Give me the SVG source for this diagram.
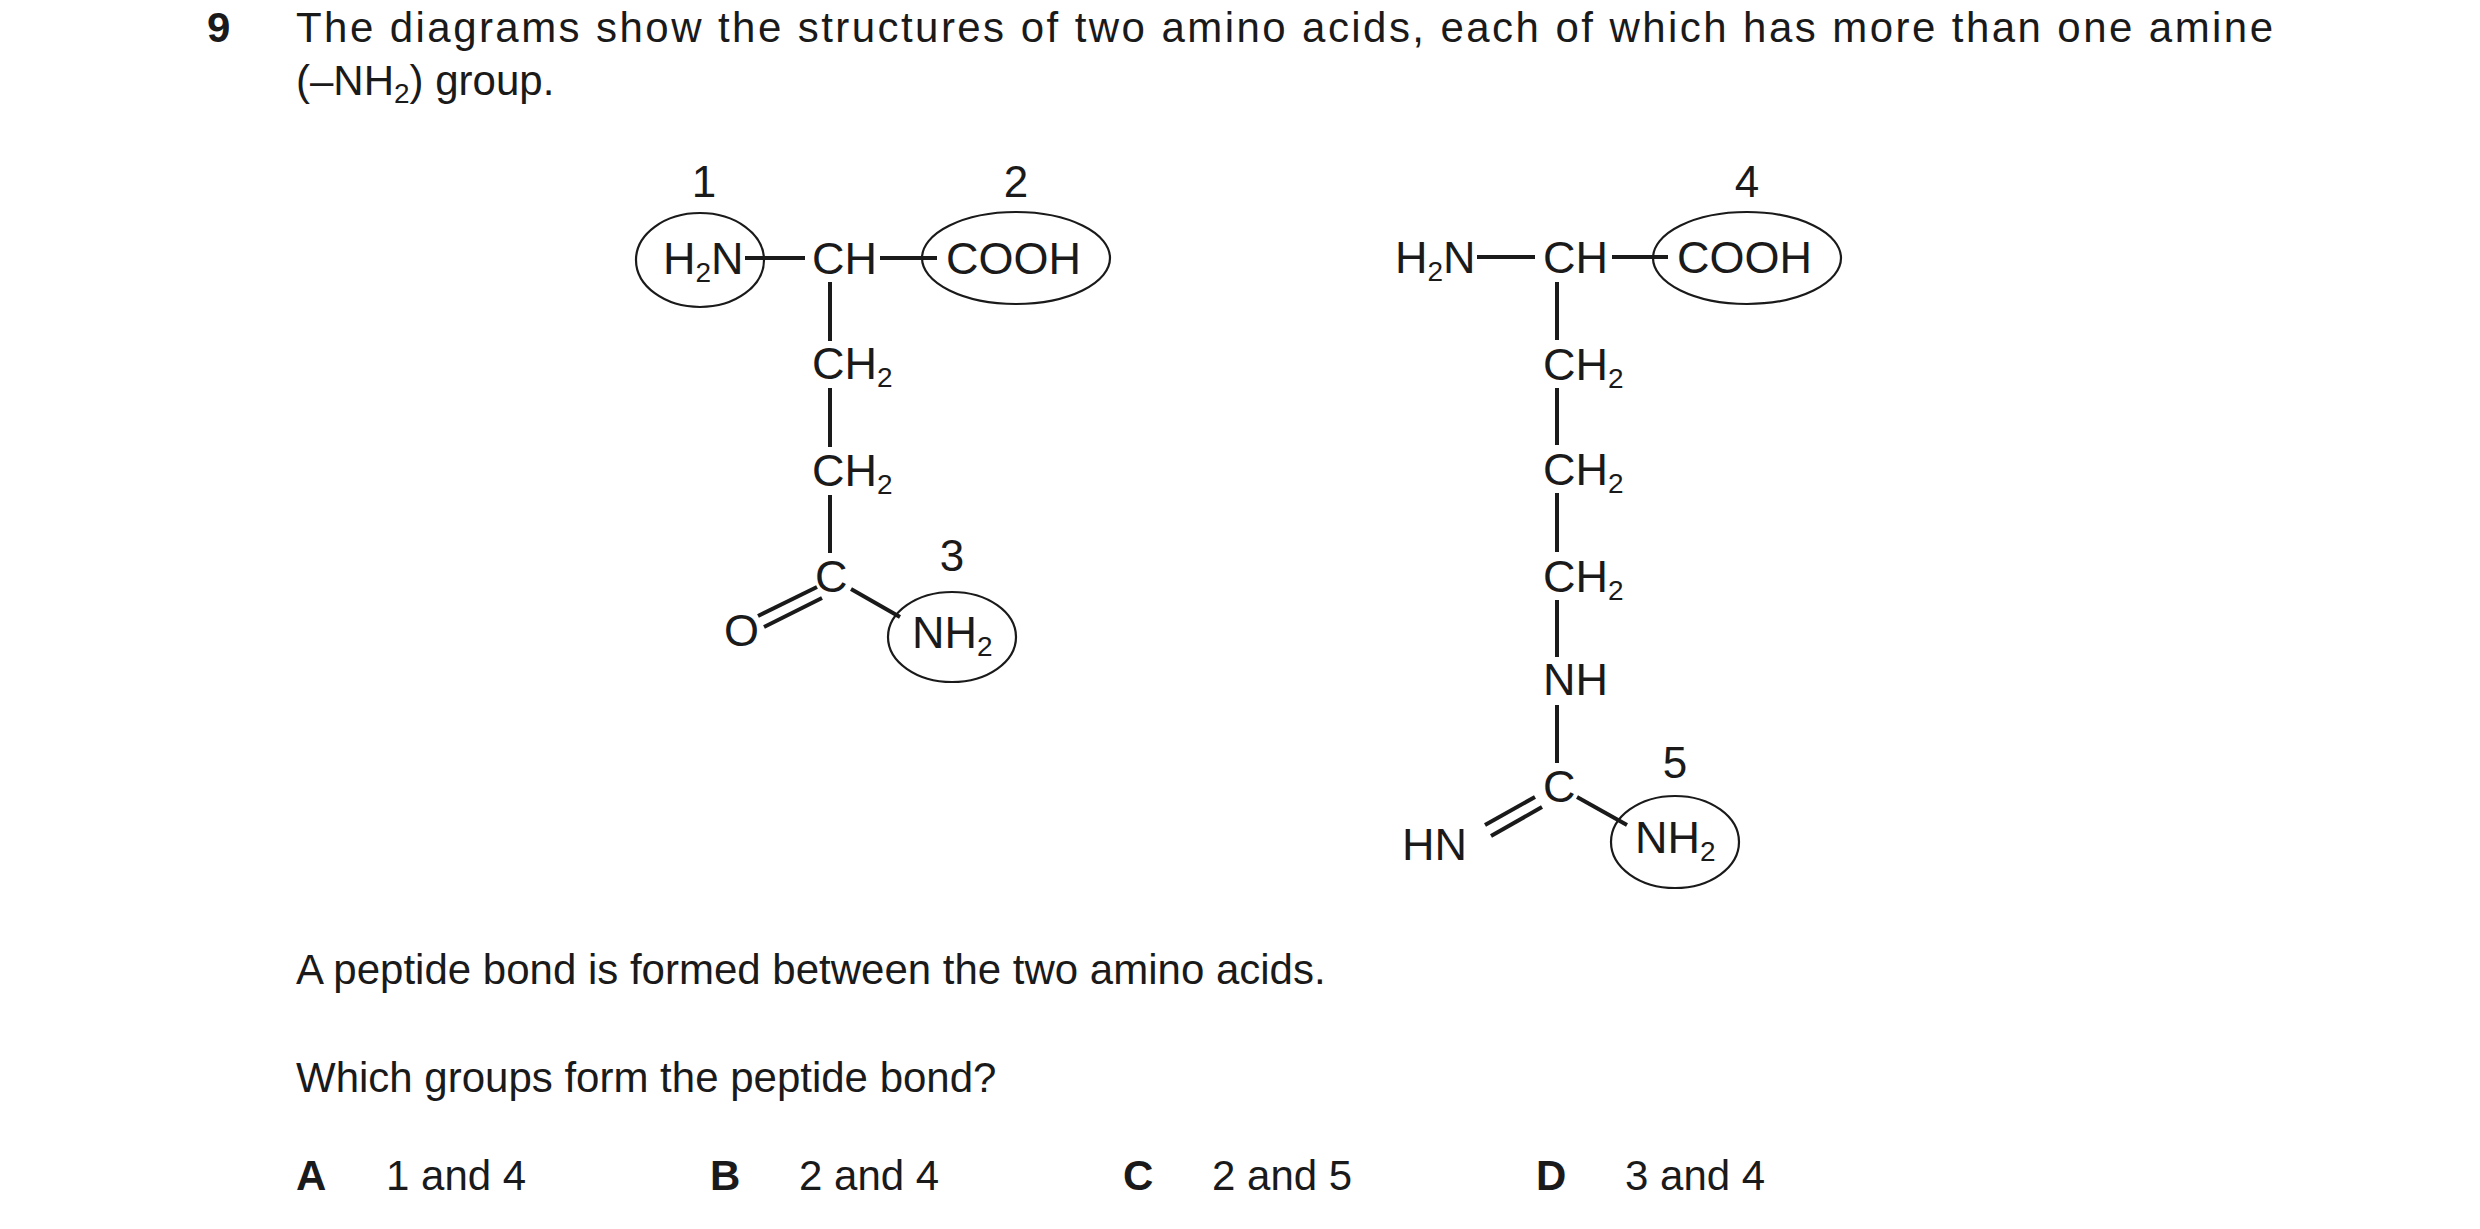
<svg xmlns="http://www.w3.org/2000/svg" width="2480" height="1229" viewBox="0 0 2480 1229">
<style>
text{font-family:"Liberation Sans",Arial,sans-serif;fill:#1a1a1a}
.t{font-size:42px}
.b{font-weight:bold}
.m{font-size:45px}
.s{font-size:28px}
.n{font-size:44px;text-anchor:middle}
.bond{stroke:#1a1a1a;stroke-width:4;fill:none}
.ring{stroke:#1a1a1a;stroke-width:2.2;fill:none}
</style>
<rect width="2480" height="1229" fill="#fff"/>
<g id="question">
<text class="t b" x="207" y="42">9</text>
<text class="t" x="296" y="42" textLength="1977" lengthAdjust="spacing">The diagrams show the structures of two amino acids, each of which has more than one amine</text>
<text class="t" x="296" y="95">(–NH<tspan class="s" dy="8">2</tspan><tspan dy="-8">) group.</tspan></text>
<text class="t" x="296" y="984">A peptide bond is formed between the two amino acids.</text>
<text class="t" x="296" y="1092">Which groups form the peptide bond?</text>
<text class="t b" x="296" y="1190">A</text><text class="t" x="386" y="1190">1 and 4</text>
<text class="t b" x="710" y="1190">B</text><text class="t" x="799" y="1190">2 and 4</text>
<text class="t b" x="1123" y="1190">C</text><text class="t" x="1212" y="1190">2 and 5</text>
<text class="t b" x="1536" y="1190">D</text><text class="t" x="1625" y="1190">3 and 4</text>
</g>
<g id="connectors">
<line class="bond" x1="745" y1="258" x2="805" y2="258"/>
<line class="bond" x1="880" y1="258" x2="937" y2="258"/>
<line class="bond" x1="830" y1="282" x2="830" y2="341"/>
<line class="bond" x1="830" y1="388" x2="830" y2="447"/>
<line class="bond" x1="830" y1="495" x2="830" y2="553"/>
<line class="bond" x1="758" y1="616" x2="817" y2="587"/>
<line class="bond" x1="764" y1="627" x2="822" y2="598"/>
<line class="bond" x1="851" y1="589" x2="900" y2="617"/>
<line class="bond" x1="1477" y1="257" x2="1535" y2="257"/>
<line class="bond" x1="1612" y1="257" x2="1668" y2="257"/>
<line class="bond" x1="1557" y1="282" x2="1557" y2="340"/>
<line class="bond" x1="1557" y1="388" x2="1557" y2="445"/>
<line class="bond" x1="1557" y1="493" x2="1557" y2="552"/>
<line class="bond" x1="1557" y1="600" x2="1557" y2="657"/>
<line class="bond" x1="1557" y1="705" x2="1557" y2="763"/>
<line class="bond" x1="1485" y1="825" x2="1535" y2="797"/>
<line class="bond" x1="1491" y1="836" x2="1542" y2="807"/>
<line class="bond" x1="1577" y1="797" x2="1627" y2="825"/>
</g>
<g id="group1"><text class="n" x="704" y="197">1</text><ellipse class="ring" cx="700" cy="260" rx="64" ry="47"/><text class="m" x="663" y="274">H<tspan class="s" dy="8">2</tspan><tspan dy="-8">N</tspan></text></g>
<g id="ch-left"><text class="m" x="812" y="274">CH</text></g>
<g id="group2"><text class="n" x="1016" y="197">2</text><ellipse class="ring" cx="1016" cy="258" rx="94" ry="46"/><text class="m" x="946" y="274">COOH</text></g>
<g id="ch2-left-1"><text class="m" x="812" y="379">CH<tspan class="s" dy="8">2</tspan></text></g>
<g id="ch2-left-2"><text class="m" x="812" y="486">CH<tspan class="s" dy="8">2</tspan></text></g>
<g id="c-left"><text class="m" x="815" y="592">C</text></g>
<g id="o-left"><text class="m" x="724" y="646">O</text></g>
<g id="group3"><text class="n" x="952" y="571">3</text><ellipse class="ring" cx="952" cy="637" rx="64" ry="45"/><text class="m" x="912" y="648">NH<tspan class="s" dy="8">2</tspan></text></g>
<g id="h2n-right"><text class="m" x="1395" y="273">H<tspan class="s" dy="8">2</tspan><tspan dy="-8">N</tspan></text></g>
<g id="ch-right"><text class="m" x="1543" y="273">CH</text></g>
<g id="group4"><text class="n" x="1747" y="197">4</text><ellipse class="ring" cx="1747" cy="258" rx="94" ry="46"/><text class="m" x="1677" y="273">COOH</text></g>
<g id="ch2-right-1"><text class="m" x="1543" y="380">CH<tspan class="s" dy="8">2</tspan></text></g>
<g id="ch2-right-2"><text class="m" x="1543" y="485">CH<tspan class="s" dy="8">2</tspan></text></g>
<g id="ch2-right-3"><text class="m" x="1543" y="592">CH<tspan class="s" dy="8">2</tspan></text></g>
<g id="nh-right"><text class="m" x="1543" y="695">NH</text></g>
<g id="c-right"><text class="m" x="1543" y="802">C</text></g>
<g id="hn-right"><text class="m" x="1402" y="860">HN</text></g>
<g id="group5"><text class="n" x="1675" y="778">5</text><ellipse class="ring" cx="1675" cy="842" rx="64" ry="46"/><text class="m" x="1635" y="853">NH<tspan class="s" dy="8">2</tspan></text></g>
</svg>
